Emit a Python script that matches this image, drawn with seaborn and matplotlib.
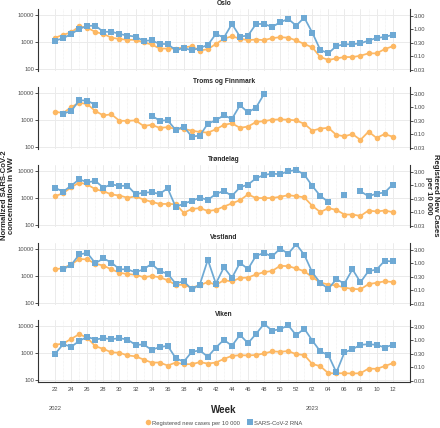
import numpy as np
import pandas as pd
import matplotlib
matplotlib.use("Agg")
import matplotlib.pyplot as plt
import seaborn as sns
from matplotlib.lines import Line2D

# === Data ===
weeks = list(range(22, 53)) + list(range(1, 13))
week_labels = [f"{w:02d}" for w in weeks]

regions = ["Oslo", "Troms og Finnmark", "Trøndelag", "Vestland", "Viken"]

# SARS-CoV-2 RNA, normalized concentration in wastewater (None = no sample)
rna_oslo = [1120, 1370, 1980, 3030, 3920, 4030, 2350, 2410, 1980, 1720, 1580, 1090, 1150, 840, 840,
            490, 600, 490, 600, 770, 1980, 1450, 4640, 1580, 1720, 4640, 4640, 3590, 5350, 7110,
            4030, 7960, 2220, 505, 380, 710, 820, 820, 890, 1120, 1410, 1530, 1820]
rna_troms = [None, 1720, 2150, 5350, 5200, 3590, None, None, None, None, None, None, 1450, 945, 970,
             427, 566, 242, 263, 731, 970, 1490, 1090, 3490, 1920, 2860, 9180, None, None, None,
             None, None, None, None, None, None, None, None, None, None, None, None, None]
rna_trond = [2350, 1720, 2860, 4910, 3800, 4260, 2410, 3210, 2780, 2860, 1370, 1580, 1620, 1410, 2280,
             464, 617, 774, 1030, 843, 1410, 1820, 1190, 2480, 3120, 5350, 7110, 7960, 7530, 9720,
             10900, 7320, 2780, 1190, 711, None, 1260, None, 1770, 1150, 1450, 1580, 3120]
rna_vest = [None, 1810, 2560, 6290, 7060, 2960, 4450, 3140, 1760, 1760, 1360, 1760, 2800, 1520, 1210,
            521, 638, 318, 477, 3960, 521, 2090, 853, 3050, 1810, 5600, 7060, 5290, 10300, 6670,
            15000, 6110, 1360, 552, 337, 760, 521, 1760, 585, 1520, 1710, 3630, 3430]
rna_viken = [931, 2110, 1690, 2800, 3940, 3140, 3520, 3230, 3520, 3140, 2000, 2060, 1310, 1640, 1840,
             645, 473, 1100, 1240, 722, 1590, 3050, 1840, 4660, 2300, 5080, 11900, 6730, 7540, 10600,
             4530, 7980, 2880, 1140, 832, 191, 1040, 1380, 2000, 2110, 2000, 1590, 2000]

# Registered new cases per 10 000 inhabitants
cases_oslo = [0.48, 0.61, 0.76, 1.26, 1.12, 0.78, 0.66, 0.48, 0.43, 0.40, 0.40, 0.32, 0.27, 0.19, 0.19,
              0.19, 0.21, 0.23, 0.16, 0.18, 0.28, 0.44, 0.54, 0.44, 0.39, 0.41, 0.39, 0.46, 0.50, 0.48,
              0.38, 0.28, 0.21, 0.092, 0.072, 0.082, 0.092, 0.092, 0.103, 0.126, 0.126, 0.18, 0.23]
cases_troms = [0.67, 0.60, 1.0, 1.44, 1.29, 0.71, 0.49, 0.54, 0.31, 0.31, 0.32, 0.20, 0.22, 0.17, 0.18,
               0.155, 0.155, 0.134, 0.12, 0.113, 0.15, 0.22, 0.25, 0.17, 0.19, 0.28, 0.30, 0.34, 0.35, 0.34,
               0.32, 0.24, 0.134, 0.16, 0.17, 0.093, 0.083, 0.10, 0.061, 0.123, 0.072, 0.10, 0.080]
cases_trond = [0.39, 0.50, 0.83, 1.24, 1.05, 0.70, 0.59, 0.45, 0.41, 0.34, 0.38, 0.29, 0.24, 0.20, 0.20,
               0.196, 0.094, 0.13, 0.14, 0.11, 0.12, 0.16, 0.21, 0.275, 0.45, 0.33, 0.33, 0.33, 0.37, 0.42,
               0.39, 0.35, 0.17, 0.10, 0.14, 0.12, 0.081, 0.081, 0.072, 0.114, 0.105, 0.114, 0.10]
cases_vest = [0.59, 0.65, 0.89, 1.41, 1.37, 0.94, 0.81, 0.58, 0.44, 0.39, 0.37, 0.30, 0.33, 0.30, 0.23,
              0.156, 0.156, 0.124, 0.15, 0.20, 0.156, 0.23, 0.21, 0.28, 0.29, 0.38, 0.46, 0.51, 0.79, 0.77,
              0.63, 0.50, 0.30, 0.19, 0.16, 0.148, 0.124, 0.11, 0.107, 0.166, 0.186, 0.21, 0.20]
cases_viken = [0.67, 0.74, 1.11, 1.65, 1.21, 0.59, 0.47, 0.35, 0.34, 0.27, 0.25, 0.19, 0.147, 0.147, 0.114,
               0.147, 0.128, 0.128, 0.152, 0.135, 0.147, 0.20, 0.26, 0.275, 0.27, 0.28, 0.32, 0.38, 0.37, 0.39,
               0.30, 0.28, 0.13, 0.108, 0.059, 0.059, 0.059, 0.058, 0.059, 0.088, 0.086, 0.108, 0.139]

rna_series = [rna_oslo, rna_troms, rna_trond, rna_vest, rna_viken]
case_series = [cases_oslo, cases_troms, cases_trond, cases_vest, cases_viken]

left_ticks = [100, 1000, 10000]
right_ticks = [0.03, 0.10, 0.30, 1.00, 3.00]
SCALE = 3000  # secondary axis: cases per 10 000 = concentration / 3000

# === Style ===
sns.set_style("white")
plt.rcParams["font.family"] = ["Liberation Sans", "DejaVu Sans"]

ORANGE = "#FDB863"
BLUE = "#6EA9D4"
GRID = "#EBEBEB"
TXT = "#4D4D4D"


def to_frame(vals, factor=1.0):
    df = pd.DataFrame({"idx": np.arange(len(vals)), "value": pd.array(vals, dtype="float")})
    df["seg"] = df["value"].isna().cumsum()
    df = df.dropna()
    df["value"] = df["value"] * factor
    return df


fig = plt.figure(figsize=(4.4, 4.28), dpi=100)
W, H = 440, 428
left_px, right_px = 38.3, 409.5
panel_h = 62
tops = [9, 87, 165, 243, 320]
ylim = (84, 16600)
xlim = (-2.1, len(weeks) - 1 + 2.1)

for k, region in enumerate(regions):
    ax = fig.add_axes([left_px / W, (H - tops[k] - panel_h) / H,
                       (right_px - left_px) / W, panel_h / H])
    ax.set_yscale("log")

    # grid
    ax.set_xticks(np.arange(0, len(weeks), 2))
    ax.set_xticks(np.arange(1, len(weeks), 2), minor=True)
    ax.grid(True, which="major", axis="both", color=GRID, linewidth=0.7)
    ax.grid(True, which="minor", axis="x", color=GRID, linewidth=0.5, linestyle=(0, (1, 1)))
    ax.set_axisbelow(True)

    sns.lineplot(data=to_frame(case_series[k], SCALE), x="idx", y="value", units="seg",
                 estimator=None, sort=False, color=ORANGE, marker="o", markersize=4.0,
                 markeredgewidth=0, linewidth=1.25, ax=ax, legend=False)
    sns.lineplot(data=to_frame(rna_series[k]), x="idx", y="value", units="seg",
                 estimator=None, sort=False, color=BLUE, marker="s", markersize=3.7,
                 markeredgewidth=0, linewidth=1.25, ax=ax, legend=False)

    ax.set_xlim(*xlim)
    ax.set_ylim(*ylim)
    ax.set_yticks(left_ticks)
    ax.set_yticklabels([str(t) for t in left_ticks])
    ax.yaxis.set_minor_locator(matplotlib.ticker.NullLocator())
    ax.set_xlabel("")
    ax.set_ylabel("")
    ax.set_title(region, fontsize=4.8, fontweight="bold", pad=3)

    ax2 = ax.twinx()
    ax2.set_yscale("log")
    ax2.set_ylim(ylim[0] / SCALE, ylim[1] / SCALE)
    ax2.set_yticks(right_ticks)
    ax2.set_yticklabels([f"{t:.2f}" for t in right_ticks])
    ax2.yaxis.set_minor_locator(matplotlib.ticker.NullLocator())

    for a in (ax, ax2):
        for s in a.spines.values():
            s.set_visible(False)
        a.tick_params(axis="y", labelsize=4.2, labelcolor=TXT, length=2, width=0.6,
                      color="#333333", pad=1)
    ax.spines["left"].set_visible(True)
    ax.spines["left"].set_color("#333333")
    ax.spines["left"].set_linewidth(0.8)
    ax2.spines["right"].set_visible(True)
    ax2.spines["right"].set_color("#333333")
    ax2.spines["right"].set_linewidth(0.8)

    if k == len(regions) - 1:
        ax.spines["bottom"].set_visible(True)
        ax.spines["bottom"].set_color("#333333")
        ax.spines["bottom"].set_linewidth(0.8)
        ax.set_xticklabels(week_labels[::2])
        ax.tick_params(axis="x", which="major", labelsize=4.2, labelcolor=TXT, length=2,
                       width=0.6, color="#333333", pad=1.5)
        ax.tick_params(axis="x", which="minor", length=0)
        ax.text(0, -0.42, "2022", transform=ax.get_xaxis_transform(), ha="center",
                va="center", fontsize=4.2, color=TXT)
        ax.text(weeks.index(2), -0.42, "2023", transform=ax.get_xaxis_transform(),
                ha="center", va="center", fontsize=4.2, color=TXT)
    else:
        ax.tick_params(axis="x", which="both", length=0, labelbottom=False)

# axis titles
mid_y = 1 - (tops[0] + tops[-1] + panel_h) / 2 / H
fig.text(8.5 / W, mid_y, "Normalized SARS-CoV-2\nconcentration in WW", rotation=90,
         ha="center", va="center", fontsize=5.6, fontweight="bold", linespacing=1.0)
fig.text(432 / W, mid_y, "Registered New Cases\nper 10 000", rotation=270,
         ha="center", va="center", fontsize=5.6, fontweight="bold", linespacing=1.0)
fig.text((left_px + right_px) / 2 / W, 1 - 410 / H, "Week", ha="center", va="center",
         fontsize=7, fontweight="bold")

# legend
handles = [
    Line2D([], [], color=ORANGE, marker="o", linestyle="none", markersize=4.0, markeredgewidth=0),
    Line2D([], [], color=BLUE, marker="s", linestyle="none", markersize=3.7, markeredgewidth=0),
]
fig.legend(handles, ["Registered new cases per 10 000", "SARS-CoV-2 RNA"], loc="center",
           bbox_to_anchor=((left_px + right_px) / 2 / W, 1 - 423 / H), ncol=2, frameon=False,
           fontsize=4.2, handletextpad=0.2, columnspacing=1.2, handlelength=1.0,
           labelcolor=TXT)

fig.savefig("out.png", dpi=100)
